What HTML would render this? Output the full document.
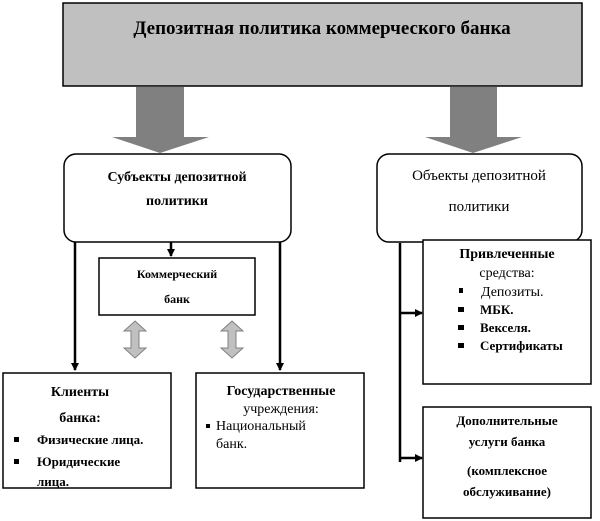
<!DOCTYPE html>
<html><head><meta charset="utf-8"><style>
html,body{margin:0;padding:0;background:#fff;}
svg{display:block;font-family:"Liberation Serif","DejaVu Serif",serif;}
</style></head><body>
<svg width="600" height="521" viewBox="0 0 600 521" xmlns="http://www.w3.org/2000/svg">
<defs>
<marker id="ah" markerWidth="8" markerHeight="8" refX="7" refY="4" orient="auto" markerUnits="userSpaceOnUse">
<path d="M0,0 L8,4 L0,8 Z" fill="#000"/></marker>
</defs>
<rect x="63" y="3" width="519" height="83" fill="#c0c0c0" stroke="#000" stroke-width="1.5"/>
<text x="322" y="34" text-anchor="middle" font-size="19" font-weight="bold">Депозитная политика коммерческого банка</text>
<path d="M136,87 H184 V137 H209 L160,153 L112,137 H136 Z" fill="#808080"/>
<path d="M450,87 H497 V137 H522 L473,153 L425,137 H450 Z" fill="#808080"/>
<rect x="64" y="154" width="227" height="88" rx="12" fill="#fff" stroke="#000" stroke-width="1.5"/>
<text x="177" y="181" text-anchor="middle" font-size="14" font-weight="bold">Субъекты депозитной</text>
<text x="177" y="205" text-anchor="middle" font-size="14" font-weight="bold">политики</text>
<rect x="377" y="154" width="205" height="88" rx="12" fill="#fff" stroke="#000" stroke-width="1.5"/>
<text x="479" y="180" text-anchor="middle" font-size="15">Объекты депозитной</text>
<text x="479" y="211" text-anchor="middle" font-size="15">политики</text>
<g stroke="#000" stroke-width="2.5" fill="none">
<line x1="75" y1="242" x2="75" y2="370" marker-end="url(#ah)"/>
<line x1="171" y1="242" x2="171" y2="256" marker-end="url(#ah)"/>
<line x1="280" y1="242" x2="280" y2="370" marker-end="url(#ah)"/>
<line x1="400" y1="243" x2="400" y2="462"/>
<line x1="400" y1="313" x2="422" y2="313" marker-end="url(#ah)"/>
<line x1="400" y1="458" x2="422" y2="458" marker-end="url(#ah)"/>
</g>
<rect x="99" y="258" width="156" height="57" fill="#fff" stroke="#000" stroke-width="1.5"/>
<text x="177" y="278" text-anchor="middle" font-size="12" font-weight="bold">Коммерческий</text>
<text x="177" y="303" text-anchor="middle" font-size="12" font-weight="bold">банк</text>
<path d="M135,321 L146,331 H139 V348 H146 L135,358 L124,348 H131 V331 H124 Z" fill="#c0c0c0" stroke="#808080"/>
<path d="M232,321 L243,331 H236 V348 H243 L232,358 L221,348 H228 V331 H221 Z" fill="#c0c0c0" stroke="#808080"/>
<rect x="3" y="373" width="168" height="115" fill="#fff" stroke="#000" stroke-width="1.5"/>
<text x="80" y="396" text-anchor="middle" font-size="14" font-weight="bold">Клиенты</text>
<text x="80" y="422" text-anchor="middle" font-size="14" font-weight="bold">банка:</text>
<rect x="14" y="437" width="5" height="5" fill="#000"/>
<text x="37" y="444" font-size="13" font-weight="bold">Физические лица.</text>
<rect x="14" y="459" width="5" height="5" fill="#000"/>
<text x="37" y="466" font-size="13" font-weight="bold">Юридические</text>
<text x="37" y="486" font-size="13" font-weight="bold">лица.</text>
<rect x="196" y="373" width="168" height="115" fill="#fff" stroke="#000" stroke-width="1.5"/>
<text x="281" y="395" text-anchor="middle" font-size="14" font-weight="bold">Государственные</text>
<text x="281" y="413" text-anchor="middle" font-size="14">учреждения:</text>
<rect x="206" y="424" width="4" height="4" fill="#000"/>
<text x="216" y="430" font-size="14">Национальный</text>
<text x="216" y="448" font-size="14">банк.</text>
<rect x="423" y="240" width="168" height="144" fill="#fff" stroke="#000" stroke-width="1.5"/>
<text x="507" y="258" text-anchor="middle" font-size="14" font-weight="bold">Привлеченные</text>
<text x="507" y="277" text-anchor="middle" font-size="14">средства:</text>
<rect x="459" y="288" width="4" height="5" fill="#000"/>
<text x="481" y="296" font-size="14">Депозиты.</text>
<rect x="458" y="307" width="6" height="5" fill="#000"/>
<text x="480" y="314" font-size="13" font-weight="bold">МБК.</text>
<rect x="458" y="325" width="6" height="5" fill="#000"/>
<text x="480" y="332" font-size="13" font-weight="bold">Векселя.</text>
<rect x="458" y="343" width="6" height="5" fill="#000"/>
<text x="480" y="350" font-size="13" font-weight="bold">Сертификаты</text>
<rect x="423" y="407" width="168" height="111" fill="#fff" stroke="#000" stroke-width="1.5"/>
<text x="507" y="425" text-anchor="middle" font-size="13" font-weight="bold">Дополнительные</text>
<text x="507" y="446" text-anchor="middle" font-size="13" font-weight="bold">услуги банка</text>
<text x="507" y="475" text-anchor="middle" font-size="13" font-weight="bold">(комплексное</text>
<text x="507" y="496" text-anchor="middle" font-size="13" font-weight="bold">обслуживание)</text>
</svg>
</body></html>
